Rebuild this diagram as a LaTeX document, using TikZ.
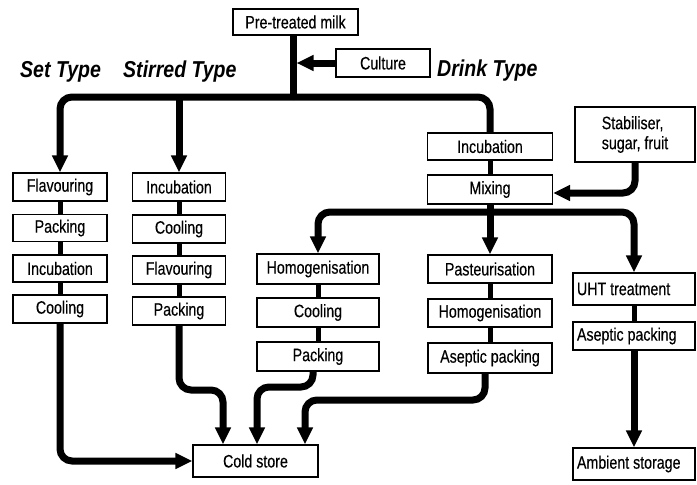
\documentclass[tikz,border=0pt]{standalone}
\usepackage{fontspec}
\setmainfont[FakeStretch=0.79, FakeBold=0.3]{Liberation Sans}
\newfontfamily\headfont[FakeStretch=0.85]{Liberation Sans}
\usetikzlibrary{arrows.meta}

\tikzset{
  box/.style={draw, line width=1.2pt, fill=white, inner sep=0pt,
    minimum height=27pt, font=\fontsize{18}{20}\selectfont},
  flow/.style={line width=7pt, rounded corners=12pt},
  link/.style={line width=5pt},
  arr/.style={-{Triangle[length=17pt,width=15pt]}},
  head/.style={anchor=base west, inner sep=0pt,
    font=\headfont\bfseries\itshape\fontsize{23}{26}\selectfont}
}
% left-set label for the boxes running to the right edge
\newcommand\lefttext[1]{\makebox[114pt][l]{#1}}

\begin{document}
\begin{tikzpicture}[x=1pt,y=-1pt]
\useasboundingbox (0,0) rectangle (697,485);

% source and culture
\node[box, minimum width=125pt, minimum height=26pt] (milk) at (295.5,22) {Pre-treated milk};
\node[box, minimum width=94pt, minimum height=28pt] (culture) at (383,63) {Culture};

% product type headings
\node[head] (hset) at (20,77) {Set Type};
\node[head] (hstir) at (123,77) {Stirred Type};
\node[head] (hdrink) at (437,76) {Drink Type};

% set type
\node[box, minimum width=94pt, minimum height=28pt] (setFlav) at (60,187) {Flavouring};
\node[box, minimum width=94pt] (setPack) at (60,228) {Packing};
\node[box, minimum width=94pt] (setInc) at (60,268.5) {Incubation};
\node[box, minimum width=94pt, minimum height=28pt] (setCool) at (60,309) {Cooling};

% stirred type
\node[box, minimum width=93pt, minimum height=28pt] (stirInc) at (179,187) {Incubation};
\node[box, minimum width=93pt, minimum height=28pt] (stirCool) at (179,229) {Cooling};
\node[box, minimum width=93pt, minimum height=28pt] (stirFlav) at (179,270) {Flavouring};
\node[box, minimum width=93pt, minimum height=28pt] (stirPack) at (179,311) {Packing};

% drink type, cold chain
\node[box, minimum width=122pt, minimum height=30pt] (homHom) at (318,269) {Homogenisation};
\node[box, minimum width=122pt, minimum height=29pt] (homCool) at (318,312.5) {Cooling};
\node[box, minimum width=122pt, minimum height=29pt] (homPack) at (318,356.5) {Packing};

% drink type, common steps
\node[box, minimum width=125pt] (drInc) at (490,146.5) {Incubation};
\node[box, minimum width=125pt, minimum height=29pt] (drMix) at (490,189.5) {Mixing};
\node[box, align=left, minimum width=120pt, minimum height=55pt] (stab) at (635,134.5) {Stabiliser,\\sugar, fruit};

% drink type, pasteurised
\node[box, minimum width=124pt, minimum height=28pt] (past) at (490,269) {Pasteurisation};
\node[box, minimum width=124pt, minimum height=28pt] (drHom) at (490,313) {Homogenisation};
\node[box, minimum width=124pt, minimum height=30pt] (drAsep) at (490,358) {Aseptic packing};

% drink type, UHT
\node[box, minimum width=122pt, minimum height=32pt] (uht) at (634,289) {\lefttext{UHT treatment}};
\node[box, minimum width=122pt, minimum height=28pt] (rAsep) at (634,336) {\lefttext{Aseptic packing}};
\node[box, minimum width=122pt, minimum height=32pt] (amb) at (634,464) {\lefttext{Ambient storage}};

% storage
\node[box, minimum width=125pt, minimum height=32pt] (cold) at (255.5,461) {Cold store};

% main distribution
\coordinate (j) at (293,97);
\coordinate (cultin) at (296.5,63);
\draw[flow] (milk.south -| j) -- (j);
\draw[flow, arr] (culture.west) -- (cultin);
\draw[flow, arr] (j) -| (setFlav.north);
\draw[flow] (j) -| (drInc.north);
\draw[flow, arr] (stirInc.north |- j) -- (stirInc.north);

% steps within columns
\draw[link] (setFlav.south) -- (setPack.north);
\draw[link] (setPack.south) -- (setInc.north);
\draw[link] (setInc.south) -- (setCool.north);
\draw[link] (stirInc.south) -- (stirCool.north);
\draw[link] (stirCool.south) -- (stirFlav.north);
\draw[link] (stirFlav.south) -- (stirPack.north);
\draw[link] (homHom.south) -- (homCool.north);
\draw[link] (homCool.south) -- (homPack.north);
\draw[link] (drInc.south) -- (drMix.north);
\draw[link] (past.south) -- (drHom.north);
\draw[link] (drHom.south) -- (drAsep.north);
\draw[link] (uht.south) -- (rAsep.north);

% additions and drink distribution
\draw[flow, arr] (stab.south) |- ([yshift=-3.5pt]drMix.east);
\coordinate (m) at (490,212);
\draw[flow, arr] (drMix.south) -- (past.north);
\draw[flow, arr] (m) -| (homHom.north);
\draw[flow, arr] (m) -| (uht.north);

% to storage
\draw[flow, arr] (setCool.south) |- (cold.west);
\draw[flow, arr] (stirPack.south) -- (179,390) -| ([xshift=-32.5pt]cold.north);
\draw[flow, arr] ([xshift=-5pt]homPack.south) -- (313,387) -| ([xshift=1.5pt]cold.north);
\draw[flow, arr] ([xshift=-5pt]drAsep.south) -- (485,400) -| ([xshift=49.5pt]cold.north);
\draw[flow, arr] (rAsep.south) -- (amb.north);
\end{tikzpicture}
\end{document}
